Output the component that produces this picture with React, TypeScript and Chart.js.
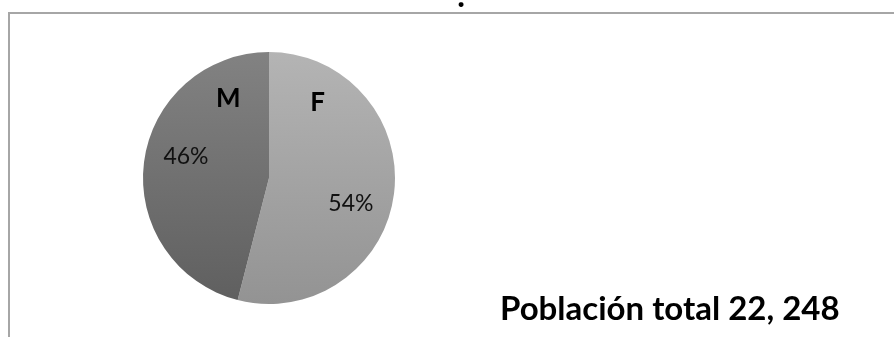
import React, { useEffect, useRef } from "react";
import { Chart, registerables } from "chart.js";

Chart.register(...registerables);

// ---- data ----
const categories: string[] = ["F", "M"];
const values: number[] = [54, 46];
const percentLabels: string[] = ["54%", "46%"];
const titleText = ".";
const totalText = "Población total 22, 248";

// ---- style ----
const gradTop = ["#b4b4b4", "#828282"];
const gradBottom = ["#939393", "#5f5f5f"];
const FONT = "Lato, 'Noto Sans', sans-serif";

export default function App() {
  const ref = useRef<HTMLCanvasElement | null>(null);

  useEffect(() => {
    const canvas = ref.current;
    if (!canvas) return;

    const deco = {
      id: "deco",
      beforeDraw(chart: any) {
        const ctx = chart.ctx as CanvasRenderingContext2D;
        ctx.save();
        ctx.fillStyle = "#ffffff";
        ctx.fillRect(0, 0, chart.width, chart.height);
        ctx.strokeStyle = "#a6a6a6";
        ctx.lineWidth = 2;
        ctx.beginPath();
        ctx.moveTo(9, chart.height);
        ctx.lineTo(9, 13);
        ctx.lineTo(chart.width, 13);
        ctx.stroke();
        ctx.restore();
      },
      afterDatasetsDraw(chart: any) {
        const ctx = chart.ctx as CanvasRenderingContext2D;
        const meta = chart.getDatasetMeta(0);
        ctx.save();
        ctx.textAlign = "center";
        ctx.textBaseline = "middle";
        meta.data.forEach((arc: any, i: number) => {
          const { x, y, startAngle, endAngle, outerRadius } = arc.getProps(
            ["x", "y", "startAngle", "endAngle", "outerRadius"],
            true
          );
          const mid = (startAngle + endAngle) / 2;
          const nameA = i === 0 ? startAngle + (33 * Math.PI) / 180 : endAngle - (27 * Math.PI) / 180;
          const nr = outerRadius * 0.71;
          ctx.fillStyle = "#000000";
          ctx.font = `bold 26px ${FONT}`;
          ctx.fillText(categories[i], x + nr * Math.cos(nameA), y + nr * Math.sin(nameA));
          const pA = mid + ((i === 0 ? 10 : 7) * Math.PI) / 180;
          const pr = outerRadius * 0.68;
          ctx.font = `23px ${FONT}`;
          ctx.fillStyle = "#111111";
          ctx.fillText(percentLabels[i], x + pr * Math.cos(pA), y + pr * Math.sin(pA));
        });
        ctx.restore();
      },
      afterDraw(chart: any) {
        const ctx = chart.ctx as CanvasRenderingContext2D;
        ctx.save();
        ctx.fillStyle = "#000000";
        ctx.textAlign = "center";
        ctx.textBaseline = "alphabetic";
        ctx.font = `900 30px ${FONT}`;
        ctx.fillText(titleText, 461, 7);
        ctx.textAlign = "left";
        ctx.font = `bold 33px ${FONT}`;
        ctx.fillText(totalText, 500, 320);
        ctx.restore();
      },
    };

    const chart = new Chart(canvas, {
      type: "pie",
      data: {
        labels: categories,
        datasets: [
          {
            data: values,
            borderWidth: 0,
            backgroundColor: (c: any) => {
              const chartRef = c.chart;
              const area = chartRef.chartArea;
              const i = c.dataIndex ?? 0;
              if (!area) return gradTop[i];
              const g = chartRef.ctx.createLinearGradient(0, area.top, 0, area.bottom);
              g.addColorStop(0, gradTop[i]);
              g.addColorStop(1, gradBottom[i]);
              return g;
            },
          },
        ],
      },
      options: {
        responsive: false,
        animation: false,
        devicePixelRatio: 1,
        layout: { padding: { left: 143, right: 499, top: 52, bottom: 33 } },
        plugins: {
          legend: { display: false },
          tooltip: { enabled: false },
          title: { display: false },
        },
      },
      plugins: [deco],
    });

    return () => chart.destroy();
  }, []);

  return (
    <div style={{ position: "fixed", left: 0, top: 0, width: 894, height: 337 }}>
      <canvas ref={ref} width={894} height={337} style={{ width: 894, height: 337, display: "block" }} />
    </div>
  );
}
